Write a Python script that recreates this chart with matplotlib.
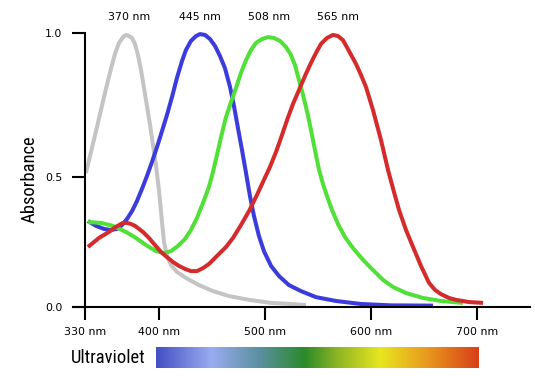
import numpy as np
import matplotlib.pyplot as plt
from matplotlib import font_manager as fm
from matplotlib.colors import LinearSegmentedColormap

# absorbance curves (wavelength nm, relative absorbance)
uv_nm = [330.9, 335.7, 340.4, 345.1, 349.8, 354.5, 358.3, 362.1, 365.9, 368.7, 371.5,
         374.4, 377.2, 380.0, 382.9, 385.7, 388.5, 391.4, 394.2, 397.0, 399.8, 402.7,
         404.6, 407.4, 411.2, 416.8, 425.3, 437.6, 450.8, 465.9, 484.8, 505.6, 524.4,
         538.6]
uv_abs = [0.489, 0.566, 0.642, 0.719, 0.796, 0.869, 0.923, 0.964, 0.985, 0.993, 0.989,
          0.982, 0.960, 0.920, 0.865, 0.799, 0.734, 0.664, 0.591, 0.518, 0.427, 0.310,
          0.237, 0.186, 0.153, 0.128, 0.106, 0.080, 0.058, 0.040, 0.026, 0.015, 0.011,
          0.007]

blue_nm = [332.8, 340.4, 347.9, 354.5, 360.2, 364.9, 369.6, 374.4, 379.1, 383.8,
           388.5, 393.2, 398.0, 402.7, 407.4, 412.1, 416.8, 421.6, 425.3, 430.0,
           434.8, 438.5, 443.3, 448.0, 452.7, 457.4, 462.1, 466.9, 470.6, 474.4,
           478.2, 482.0, 485.7, 489.5, 494.2, 498.9, 505.6, 513.1, 522.5, 533.9,
           548.0, 566.9, 590.5, 618.8, 658.5]
blue_abs = [0.314, 0.296, 0.285, 0.281, 0.285, 0.299, 0.321, 0.350, 0.387, 0.431,
            0.478, 0.529, 0.584, 0.642, 0.701, 0.766, 0.836, 0.898, 0.938, 0.971,
            0.989, 0.996, 0.993, 0.978, 0.953, 0.916, 0.872, 0.803, 0.734, 0.653,
            0.573, 0.489, 0.405, 0.332, 0.259, 0.204, 0.150, 0.113, 0.080, 0.058,
            0.036, 0.022, 0.011, 0.006, 0.005]

green_nm = [332.8, 345.1, 356.4, 368.7, 378.1, 387.6, 397.0, 404.6, 411.2, 417.8,
            424.4, 430.0, 435.7, 441.4, 447.0, 450.8, 454.6, 458.4, 463.1, 467.8,
            472.5, 477.2, 482.0, 486.7, 491.4, 497.1, 502.7, 508.4, 514.1, 519.7,
            524.4, 528.2, 532.0, 535.8, 538.6, 541.4, 545.2, 548.0, 550.9, 554.6,
            558.4, 563.1, 568.8, 575.4, 583.0, 592.4, 601.8, 611.3, 620.7, 633.0,
            649.0, 666.0, 686.8]
green_abs = [0.310, 0.307, 0.296, 0.274, 0.252, 0.226, 0.204, 0.197, 0.204, 0.223,
             0.248, 0.281, 0.325, 0.380, 0.438, 0.493, 0.555, 0.620, 0.693, 0.748,
             0.799, 0.854, 0.901, 0.938, 0.964, 0.978, 0.985, 0.982, 0.971, 0.949,
             0.920, 0.883, 0.828, 0.774, 0.730, 0.682, 0.609, 0.555, 0.500, 0.449,
             0.405, 0.354, 0.303, 0.255, 0.215, 0.172, 0.135, 0.099, 0.073, 0.051,
             0.033, 0.022, 0.015]

red_nm = [332.8, 338.5, 343.2, 347.9, 352.7, 357.4, 362.1, 365.9, 369.6, 373.4,
          377.2, 381.0, 384.7, 390.4, 396.1, 401.7, 407.4, 413.1, 418.7, 424.4,
          430.0, 435.7, 441.4, 447.0, 452.7, 458.4, 463.1, 469.7, 477.2, 484.8,
          492.3, 498.9, 504.6, 510.3, 515.0, 520.7, 526.3, 532.0, 537.6, 543.3,
          548.0, 552.7, 558.4, 564.1, 568.8, 573.5, 579.2, 585.8, 590.5, 595.2,
          601.8, 609.4, 616.0, 621.6, 626.4, 633.0, 639.6, 647.1, 654.7, 660.4,
          666.0, 673.6, 680.2, 692.4, 705.7]
red_abs = [0.219, 0.237, 0.252, 0.263, 0.274, 0.288, 0.299, 0.307, 0.307, 0.303,
           0.296, 0.285, 0.274, 0.252, 0.226, 0.201, 0.182, 0.164, 0.150, 0.139,
           0.131, 0.131, 0.142, 0.157, 0.179, 0.201, 0.219, 0.252, 0.299, 0.350,
           0.409, 0.464, 0.511, 0.566, 0.617, 0.682, 0.741, 0.792, 0.843, 0.891,
           0.927, 0.960, 0.982, 0.993, 0.989, 0.974, 0.934, 0.887, 0.847, 0.803,
           0.719, 0.609, 0.500, 0.420, 0.354, 0.281, 0.219, 0.150, 0.088, 0.062,
           0.047, 0.033, 0.026, 0.018, 0.015]

peak_labels = ["370 nm", "445 nm", "508 nm", "565 nm"]
peak_label_x = [371.5, 438.5, 503.7, 568.8]

xtick_vals = [330, 400, 500, 600, 700]
xtick_labels = ["330 nm", "400 nm", "500 nm", "600 nm", "700 nm"]
ytick_vals = [0.0, 0.474, 1.0]
ytick_labels = ["0.0", "0.5", "1.0"]

# visible spectrum strip
spec_nm = [400, 451, 496, 538, 568, 609, 653, 700]
spec_col = ["#4550c4", "#9aacf0", "#5a90a0", "#2a8a2a", "#8cb422", "#e8e620", "#e8981e", "#d84018"]

# a narrow sans for the two big labels, if one is installed
avail = {f.name for f in fm.fontManager.ttflist}
narrow = next((n for n in ["Liberation Sans Narrow", "Arial Narrow", "Roboto Condensed",
                           "Open Sans Condensed", "DejaVu Sans Condensed"] if n in avail), None)
if narrow:
    big_font, big_size = narrow, 13.3
else:
    big_font, big_size = "Liberation Sans", 12.3

fig = plt.figure(figsize=(5.35, 3.84), dpi=100)
ax = fig.add_axes([73 / 535, 1 - 307 / 384, 457 / 535, 297 / 384])

style = dict(lw=2.9, clip_on=False, solid_capstyle="butt", solid_joinstyle="round")
ax.plot(uv_nm, uv_abs, color="#c4c4c4", **style)
ax.plot(blue_nm, blue_abs, color="#3c3cdc", **style)
ax.plot(green_nm, green_abs, color="#50e038", **style)
ax.plot(red_nm, red_abs, color="#d42c2c", **style)

ax.set_xlim(318.7, 750)
ax.set_ylim(0, 1.084)

for s in ["top", "right"]:
    ax.spines[s].set_visible(False)
ax.spines["left"].set_position(("data", 330))
ax.spines["left"].set_bounds(0, 1)
ax.spines["left"].set_linewidth(1.5)
ax.spines["bottom"].set_linewidth(1.5)

ax.set_xticks(xtick_vals)
ax.set_xticklabels(xtick_labels)
ax.set_yticks(ytick_vals)
ax.set_yticklabels(ytick_labels)
ax.tick_params(axis="x", direction="out", length=9.4, width=1.5, pad=5, labelsize=7.9)
ax.tick_params(axis="y", direction="out", length=9.4, width=1.5, pad=7, labelsize=7.9)

for lab, x in zip(peak_labels, peak_label_x):
    ax.text(x, (307 - 17) / 274, lab, ha="center", va="center", fontsize=7.9)

fig.text(30 / 535, 1 - 179 / 384, "Absorbance", rotation=90, ha="center", va="center",
         fontsize=big_size, family=big_font)
fig.text(71 / 535, 1 - 358 / 384, "Ultraviolet", ha="left", va="center",
         fontsize=big_size, family=big_font)

cax = fig.add_axes([156 / 535, 1 - 368 / 384, 322 / 535, 21 / 384])
pos = [(v - spec_nm[0]) / (spec_nm[-1] - spec_nm[0]) for v in spec_nm]
cmap = LinearSegmentedColormap.from_list("spec", list(zip(pos, spec_col)))
cax.imshow(np.linspace(0, 1, 400)[None, :], cmap=cmap, aspect="auto",
           extent=[spec_nm[0], spec_nm[-1], 0, 1])
cax.set_axis_off()

fig.savefig("out.png", dpi=100)
